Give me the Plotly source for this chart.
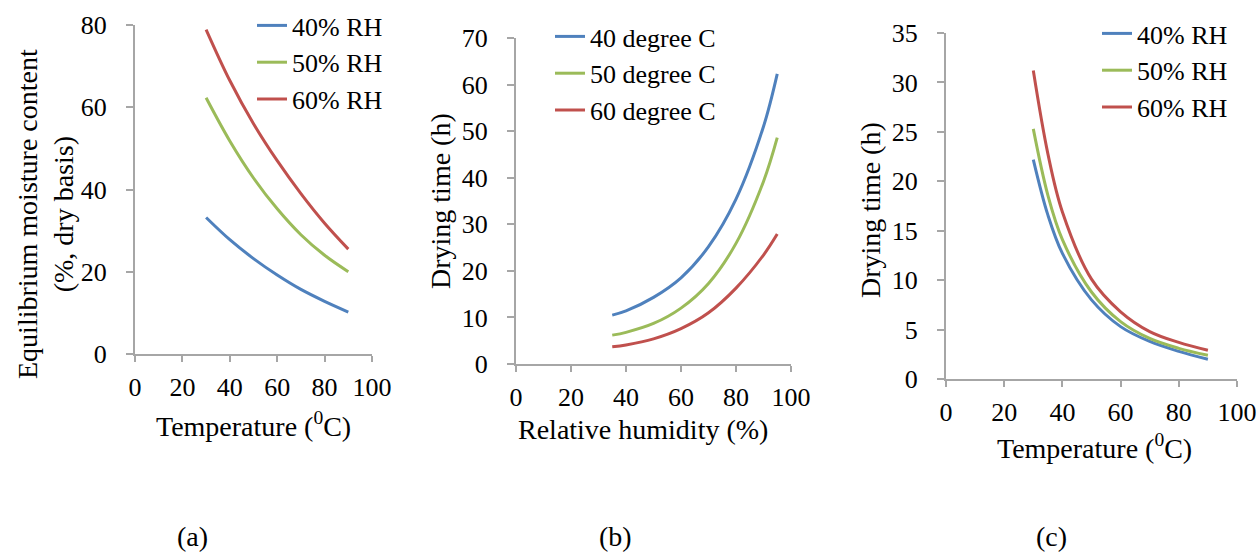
import plotly.graph_objects as go

# ---------------- data ----------------
# (a) Equilibrium moisture content vs temperature
temp_a = [30, 40, 50, 60, 70, 80, 90]
emc_40rh = [33.2, 27.8, 23.2, 19.2, 15.7, 12.8, 10.2]
emc_50rh = [62.3, 51.8, 42.8, 35.3, 29.0, 24.0, 20.0]
emc_60rh = [78.9, 66.5, 56.0, 47.0, 39.0, 31.8, 25.5]

# (b) Drying time vs relative humidity
rh_b = [35, 40, 50, 60, 70, 80, 90, 95]
dt_40c = [10.5, 11.4, 14.3, 18.5, 25.2, 35.4, 51.0, 62.3]
dt_50c = [6.2, 6.8, 8.7, 12.0, 17.3, 25.9, 39.2, 48.6]
dt_60c = [3.7, 4.1, 5.4, 7.6, 11.0, 16.3, 23.4, 27.9]

# (c) Drying time vs temperature
temp_c = [30, 35, 40, 50, 60, 70, 80, 90]
dtc_40rh = [22.2, 16.6, 12.7, 8.0, 5.3, 3.8, 2.8, 2.0]
dtc_50rh = [25.3, 18.6, 14.1, 8.8, 5.8, 4.1, 3.1, 2.4]
dtc_60rh = [31.2, 22.8, 16.9, 10.1, 6.8, 4.8, 3.7, 2.9]

names_rh = ["40% RH", "50% RH", "60% RH"]
names_deg = ["40 degree C", "50 degree C", "60 degree C"]
colors = ["#4F81BD", "#9BBB59", "#C0504D"]

W, H = 1259, 553
FONT = "'Liberation Serif', 'Times New Roman', serif"
TICK = 26
LEG = 26
TITLE = 28

fig = go.Figure()

def add(xs, ys, name, color, xa, ya, leg):
    fig.add_trace(go.Scatter(x=xs, y=ys, name=name, mode="lines",
                             line=dict(color=color, width=3, shape="spline", smoothing=1.0),
                             xaxis=xa, yaxis=ya, legend=leg))

for ys, n, c in zip([emc_40rh, emc_50rh, emc_60rh], names_rh, colors):
    add(temp_a, ys, n, c, "x", "y", "legend")
for ys, n, c in zip([dt_40c, dt_50c, dt_60c], names_deg, colors):
    add(rh_b, ys, n, c, "x2", "y2", "legend2")
for ys, n, c in zip([dtc_40rh, dtc_50rh, dtc_60rh], names_rh, colors):
    add(temp_c, ys, n, c, "x3", "y3", "legend3")

def sx(x):
    return x / W

def sy(y):
    return 1 - y / H

def px(x0, x1):
    return [sx(x0), sx(x1)]

def py(ytop, ybot):
    return [sy(ybot), sy(ytop)]

axcol = "#A6A6A6"

def ax(domain, rng, dtick, anchor, ticklen, standoff):
    return dict(domain=domain, range=rng, dtick=dtick, anchor=anchor, ticklen=ticklen,
                showgrid=False, zeroline=False, showline=True, linecolor=axcol, linewidth=2,
                ticks="outside", tickcolor=axcol, tickwidth=2, automargin=False,
                ticklabelstandoff=standoff,
                tickfont=dict(family=FONT, size=TICK, color="black"))

fig.update_layout(
    xaxis=ax(px(135, 372), [0, 100], 20, "y", 6, 3),
    yaxis=ax(py(25, 354), [0, 80], 20, "x", 7, 14),
    xaxis2=ax(px(516, 791), [0, 100], 20, "y2", 6, 3),
    yaxis2=ax(py(38, 364), [0, 70], 10, "x2", 7, 14),
    xaxis3=ax(px(946, 1237), [0, 100], 20, "y3", 6, 3),
    yaxis3=ax(py(33, 379), [0, 35], 5, "x3", 7, 14),
)

def leg(x, y):
    return dict(x=x, y=y, font=dict(family=FONT, size=LEG, color="black"), bgcolor="rgba(0,0,0,0)",
                xanchor="left", yanchor="top", tracegroupgap=0, itemwidth=30)

fig.update_layout(
    legend=leg(sx(252), sy(2)),
    legend2=leg(sx(550), sy(13)),
    legend3=leg(sx(1097), sy(10)),
)

annos = [
    dict(text="Equilibrium moisture content<br>(%, dry basis)", x=sx(46), y=sy(214), textangle=-90),
    dict(text="Drying time (h)", x=sx(440), y=sy(201), textangle=-90),
    dict(text="Drying time (h)", x=sx(870), y=sy(210), textangle=-90),
    dict(text="Temperature (<sup>0</sup>C)", x=sx(253), y=sy(424)),
    dict(text="Relative humidity (%)", x=sx(643), y=sy(429)),
    dict(text="Temperature (<sup>0</sup>C)", x=sx(1094), y=sy(446)),
    dict(text="(a)", x=sx(192), y=sy(536)),
    dict(text="(b)", x=sx(615), y=sy(536)),
    dict(text="(c)", x=sx(1051), y=sy(536)),
]
for a in annos:
    fig.add_annotation(xref="paper", yref="paper", showarrow=False, xanchor="center", yanchor="middle",
                       font=dict(family=FONT, size=TITLE, color="black"), **a)

fig.update_layout(width=W, height=H, margin=dict(l=0, r=0, t=0, b=0, autoexpand=False),
                  font=dict(family=FONT, size=TICK, color="black"),
                  paper_bgcolor="white", plot_bgcolor="white", showlegend=True)

# remove the default 8px page margin so the figure fills the window exactly
fig.write_html("out.html", config={"displayModeBar": False},
               post_script="document.body.style.margin='0';"
                           "document.documentElement.style.overflow='hidden';")
